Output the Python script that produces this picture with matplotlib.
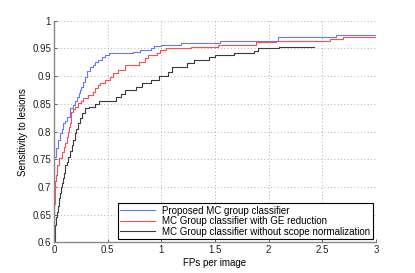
import matplotlib
matplotlib.use("Agg")
import matplotlib.pyplot as plt

plt.rcParams['font.family'] = ['Liberation Sans', 'DejaVu Sans']

labels = ["Proposed MC group classifier",
          "MC Group classifier with GE reduction",
          "MC Group classifier without scope normalization"]

blue_fp = [0, 0, 0.005, 0.015, 0.04, 0.056, 0.075, 0.087, 0.1, 0.118, 0.15, 0.18, 0.2,
           0.212, 0.23, 0.243, 0.255, 0.27, 0.29, 0.31, 0.336, 0.36, 0.383, 0.41, 0.446,
           0.48, 0.51, 0.74, 0.80, 0.9, 0.93, 1.0, 1.18, 1.55, 2.09, 2.63, 3.0]
blue_sens = [0.6, 0.68, 0.755, 0.77, 0.785, 0.797, 0.805, 0.815, 0.82, 0.827, 0.842, 0.848,
             0.856, 0.863, 0.87, 0.875, 0.881, 0.89, 0.899, 0.91, 0.917, 0.92, 0.926, 0.93,
             0.935, 0.939, 0.941, 0.944, 0.947, 0.95, 0.954, 0.957, 0.96, 0.964, 0.971,
             0.974, 0.974]

red_fp = [0, 0, 0.01, 0.02, 0.025, 0.031, 0.05, 0.072, 0.09, 0.103, 0.12, 0.134, 0.14,
          0.15, 0.155, 0.18, 0.196, 0.227, 0.25, 0.274, 0.32, 0.367, 0.383, 0.41, 0.43,
          0.477, 0.52, 0.554, 0.6, 0.66, 0.79, 0.85, 0.88, 0.96, 0.99, 1.04, 1.28, 1.53,
          1.88, 2.07, 2.57, 2.69, 3.0]
red_sens = [0.6, 0.67, 0.71, 0.721, 0.73, 0.74, 0.752, 0.764, 0.772, 0.779, 0.79, 0.8,
            0.808, 0.815, 0.836, 0.84, 0.845, 0.851, 0.856, 0.86, 0.866, 0.872, 0.878,
            0.884, 0.888, 0.893, 0.899, 0.905, 0.912, 0.92, 0.926, 0.932, 0.938, 0.941,
            0.947, 0.95, 0.953, 0.957, 0.961, 0.964, 0.967, 0.971, 0.971]

black_fp = [0, 0.01, 0.02, 0.025, 0.04, 0.05, 0.058, 0.065, 0.075, 0.081, 0.09, 0.103,
            0.118, 0.134, 0.15, 0.165, 0.18, 0.196, 0.21, 0.227, 0.24, 0.259, 0.29, 0.33,
            0.38, 0.42, 0.58, 0.62, 0.66, 0.76, 0.82, 0.9, 0.98, 1.06, 1.1, 1.24, 1.3,
            1.44, 1.5, 1.68, 1.86, 1.9, 2.1, 2.42]
black_sens = [0.6, 0.631, 0.645, 0.655, 0.665, 0.68, 0.69, 0.7, 0.708, 0.716, 0.725, 0.74,
              0.745, 0.755, 0.765, 0.775, 0.785, 0.797, 0.805, 0.815, 0.825, 0.833, 0.842,
              0.845, 0.85, 0.856, 0.862, 0.868, 0.875, 0.88, 0.887, 0.893, 0.9, 0.908,
              0.917, 0.923, 0.93, 0.935, 0.938, 0.941, 0.945, 0.95, 0.952, 0.952]

xticks = [0, 0.5, 1, 1.5, 2, 2.5, 3]
xticklabels = ["0", "0.5", "1", "1.5", "2", "2.5", "3"]
yticks = [0.6, 0.65, 0.7, 0.75, 0.8, 0.85, 0.9, 0.95, 1]
yticklabels = ["0.6", "0.65", "0.7", "0.75", "0.8", "0.85", "0.9", "0.95", "1"]

fig = plt.figure(figsize=(4.15, 2.73), dpi=100)
ax = fig.add_axes([0.130, 0.112, 0.776, 0.812])

ax.plot(blue_fp, blue_sens, drawstyle='steps-post', color='#6677ff', lw=0.8, label=labels[0])
ax.plot(red_fp, red_sens, drawstyle='steps-post', color='#ff4d4d', lw=0.8, label=labels[1])
ax.plot(black_fp, black_sens, drawstyle='steps-post', color='#3a3a3a', lw=0.8, label=labels[2])

ax.set_xlim(0, 3)
ax.set_ylim(0.6, 1)
ax.set_xticks(xticks)
ax.set_xticklabels(xticklabels)
ax.set_yticks(yticks)
ax.set_yticklabels(yticklabels)
ax.tick_params(direction='in', length=2, width=0.5, labelsize=7, colors='#222222', pad=2)
ax.grid(True, linestyle=(0, (1, 3)), color='#999999', lw=0.6)
for s in ['top', 'right']:
    ax.spines[s].set_visible(False)
for s in ['left', 'bottom']:
    ax.spines[s].set_color('#888888')
    ax.spines[s].set_linewidth(1.0)

ax.set_xlabel("FPs per image", fontsize=7, labelpad=2)
ax.set_ylabel("Sensitivity to lesions", fontsize=7, labelpad=3)

leg = ax.legend(loc='lower right', fontsize=7.0, frameon=True, fancybox=False,
                edgecolor='black', framealpha=1, borderpad=0.25, labelspacing=0.05,
                handlelength=3.6, handletextpad=0.7, borderaxespad=0.35)
leg.get_frame().set_linewidth(0.8)

fig.savefig("out.png", dpi=100)
